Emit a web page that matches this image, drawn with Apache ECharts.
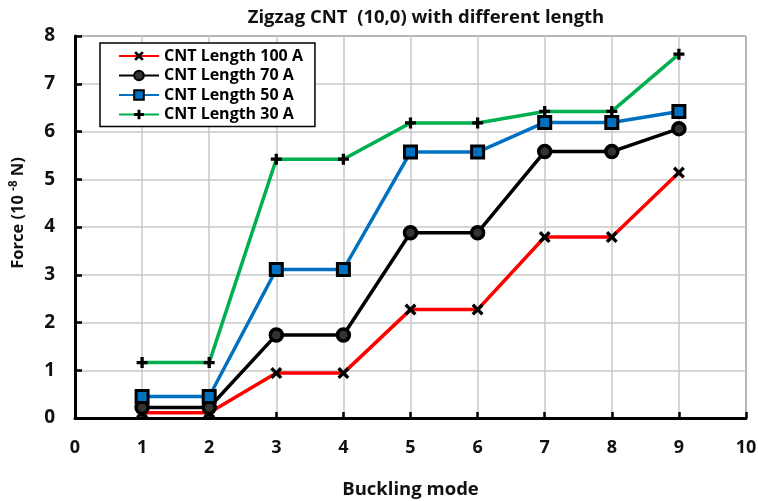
<!DOCTYPE html>
<html>
<head>
<meta charset="utf-8">
<script src="https://cdn.jsdelivr.net/npm/echarts@6/dist/echarts.min.js"></script>
<style>
  html, body { margin: 0; padding: 0; background: #fff; }
  #chart { width: 758px; height: 501px; }
</style>
</head>
<body>
<div id="chart"></div>
<script>
// Buckling modes on the x axis
const modes = [1, 2, 3, 4, 5, 6, 7, 8, 9];

// Critical force (10^-8 N) per buckling mode, one array per tube length
const len100 = [0.11, 0.11, 0.94, 0.94, 2.27, 2.27, 3.79, 3.79, 5.14];
const len70  = [0.22, 0.22, 1.74, 1.74, 3.88, 3.88, 5.58, 5.58, 6.06];
const len50  = [0.45, 0.45, 3.11, 3.11, 5.57, 5.57, 6.19, 6.19, 6.42];
const len30  = [1.16, 1.16, 5.42, 5.42, 6.18, 6.18, 6.42, 6.42, 7.62];

const seriesNames = ['CNT Length 100 A', 'CNT Length 70 A', 'CNT Length 50 A', 'CNT Length 30 A'];
const seriesColors = ['#ff0000', '#000000', '#0070c0', '#00b050'];

// marker shapes
const crossPath = 'path://M2,0 L5,3 L8,0 L10,2 L7,5 L10,8 L8,10 L5,7 L2,10 L0,8 L3,5 L0,2 Z';
const plusPath = 'path://M3.5,0 H6.5 V3.5 H10 V6.5 H6.5 V10 H3.5 V6.5 H0 V3.5 H3.5 Z';

const font = '"Open Sans", "Noto Sans", sans-serif';

function pairs(vals) {
  return modes.map((m, i) => [m, vals[i]]);
}

const dataSets = [len100, len70, len50, len30];
const markers = [
  { symbol: crossPath, symbolSize: 12, itemStyle: { color: '#000', borderWidth: 0 } },
  { symbol: 'circle', symbolSize: 12, itemStyle: { color: '#333', borderColor: '#000', borderWidth: 3.5 } },
  { symbol: 'rect', symbolSize: 12, itemStyle: { color: '#0070c0', borderColor: '#000', borderWidth: 3 } },
  { symbol: plusPath, symbolSize: 11, itemStyle: { color: '#000', borderWidth: 0 } }
];

const series = dataSets.map((vals, k) => ({
  name: seriesNames[k],
  type: 'line',
  data: pairs(vals),
  symbol: markers[k].symbol,
  symbolSize: markers[k].symbolSize,
  showAllSymbol: true,
  lineStyle: { color: seriesColors[k], width: 3.5 },
  itemStyle: markers[k].itemStyle,
  color: seriesColors[k],
  z: 2 + k,
  animation: false
}));

const chart = echarts.init(document.getElementById('chart'), null, { renderer: 'canvas' });
chart.setOption({
  backgroundColor: '#fff',
  animation: false,
  title: {
    text: 'Zigzag CNT  (10,0) with different length',
    left: 421,
    textAlign: 'center',
    top: 3,
    textStyle: { fontFamily: font, fontSize: 18.5, fontWeight: 'bold', color: '#111' }
  },
  grid: {
    left: 75, right: 12, top: 36, bottom: 83,
    outerBoundsMode: 'none', containLabel: false,
    show: true, borderColor: '#000', borderWidth: 1
  },
  legend: {
    orient: 'vertical',
    left: 100,
    top: 43,
    padding: [5, 12, 4, 18],
    itemGap: 3.5,
    itemWidth: 40,
    itemHeight: 12,
    borderColor: '#000',
    borderWidth: 1.5,
    backgroundColor: '#fff',
    textStyle: { fontFamily: font, fontSize: 16, fontWeight: 'bold', color: '#000', lineHeight: 16 },
    data: seriesNames
  },
  xAxis: {
    type: 'value',
    min: 0, max: 10, interval: 1,
    name: 'Buckling mode',
    nameLocation: 'middle',
    nameGap: 62,
    nameTextStyle: { fontFamily: font, fontSize: 18.5, fontWeight: 'bold', color: '#111' },
    axisLine: { lineStyle: { color: '#000', width: 3 } },
    axisTick: { inside: true, length: 6, lineStyle: { color: '#000', width: 2.5 } },
    axisLabel: { fontFamily: font, fontSize: 18, fontWeight: 'bold', color: '#111', margin: 21 },
    splitLine: { show: true, lineStyle: { color: '#c8c8c8', width: 1.5 } }
  },
  yAxis: {
    type: 'value',
    min: 0, max: 8, interval: 1,
    name: '{a|Force (10 }{s|-8}{a| N)}',
    nameLocation: 'middle',
    nameGap: 46,
    nameRotate: 90,
    nameTextStyle: {
      padding: [0, 0, 0, 28],
      rich: {
        a: { fontFamily: font, fontSize: 16.5, fontWeight: 'bold', color: '#111' },
        s: { fontFamily: font, fontSize: 11.5, fontWeight: 'bold', color: '#111', padding: [0, 0, 9, 0] }
      }
    },
    axisLine: { show: true, lineStyle: { color: '#000', width: 3 } },
    axisTick: { show: true, inside: true, length: 7, lineStyle: { color: '#000', width: 2.5 } },
    axisLabel: { fontFamily: font, fontSize: 19, fontWeight: 'bold', color: '#111', margin: 20 },
    splitLine: { show: true, lineStyle: { color: '#c8c8c8', width: 1.5 } }
  },
  series: series
});
</script>
</body>
</html>
